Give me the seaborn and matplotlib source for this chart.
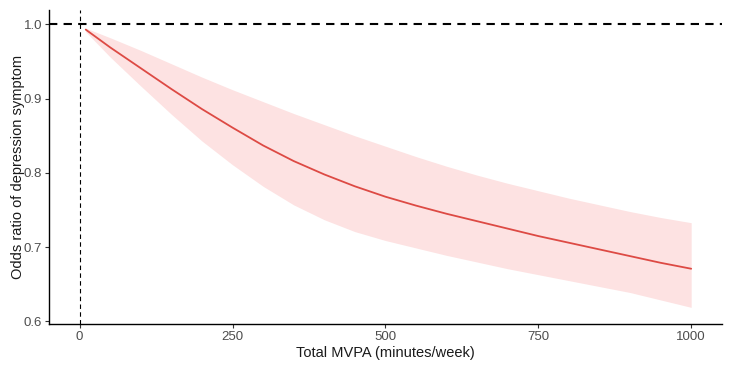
import pandas as pd
import seaborn as sns
import matplotlib.pyplot as plt

# Values (odds ratio with 95% CI)
mvpa = [10, 50, 100, 150, 200, 250, 300, 350, 400, 450, 500,
        550, 600, 650, 700, 750, 800, 850, 900, 950, 1000]
odds_ratio = [0.993, 0.969, 0.941, 0.913, 0.886, 0.861, 0.837, 0.816, 0.798, 0.782, 0.768,
              0.756, 0.745, 0.735, 0.725, 0.715, 0.706, 0.697, 0.688, 0.679, 0.671]
ci_upper = [0.995, 0.982, 0.965, 0.947, 0.929, 0.912, 0.896, 0.880, 0.865, 0.850, 0.836,
            0.822, 0.809, 0.797, 0.786, 0.776, 0.766, 0.757, 0.748, 0.740, 0.733]
ci_lower = [0.990, 0.956, 0.917, 0.879, 0.843, 0.811, 0.782, 0.757, 0.737, 0.721, 0.709,
            0.699, 0.689, 0.680, 0.671, 0.663, 0.655, 0.647, 0.639, 0.629, 0.619]

x_ticks = [0, 250, 500, 750, 1000]
y_ticks = [0.6, 0.7, 0.8, 0.9, 1.0]

df = pd.DataFrame({'mvpa': mvpa, 'or': odds_ratio, 'lo': ci_lower, 'hi': ci_upper})

sns.set_theme(style="ticks")
plt.rcParams['font.family'] = ['Liberation Sans', 'DejaVu Sans']

fig, ax = plt.subplots(figsize=(7.32, 3.67), dpi=100)
fig.subplots_adjust(left=0.067, right=0.986, bottom=0.117, top=0.973)

# Confidence band + spline curve
ax.fill_between(df['mvpa'], df['lo'], df['hi'], color='#fde2e2', linewidth=0, zorder=1)
sns.lineplot(data=df, x='mvpa', y='or', color='#dd4a44', linewidth=1.3, ax=ax, zorder=3)

# Reference lines
ax.axhline(1.0, color='black', linewidth=1.5, linestyle=(0, (4, 3)), zorder=2)
ax.axvline(0, color='black', linewidth=0.8, linestyle=(0, (4, 3)), zorder=2)

ax.set_xlim(-50, 1050)
ax.set_ylim(0.5965, 1.0195)
ax.set_xticks(x_ticks)
ax.set_yticks(y_ticks)
ax.set_yticklabels([f"{v:.1f}" for v in y_ticks])

ax.set_xlabel("Total MVPA (minutes/week)", fontsize=10.5, color='#1a1a1a', labelpad=2)
ax.set_ylabel("Odds ratio of depression symptom", fontsize=10.5, color='#1a1a1a', labelpad=-1)
ax.tick_params(axis='both', labelsize=9.5, labelcolor='#4d4d4d', color='#333333',
               length=3, width=0.8, pad=2)

sns.despine(ax=ax)
for side in ['left', 'bottom']:
    ax.spines[side].set_color('black')
    ax.spines[side].set_linewidth(1.0)

plt.savefig("out.png", dpi=100)
